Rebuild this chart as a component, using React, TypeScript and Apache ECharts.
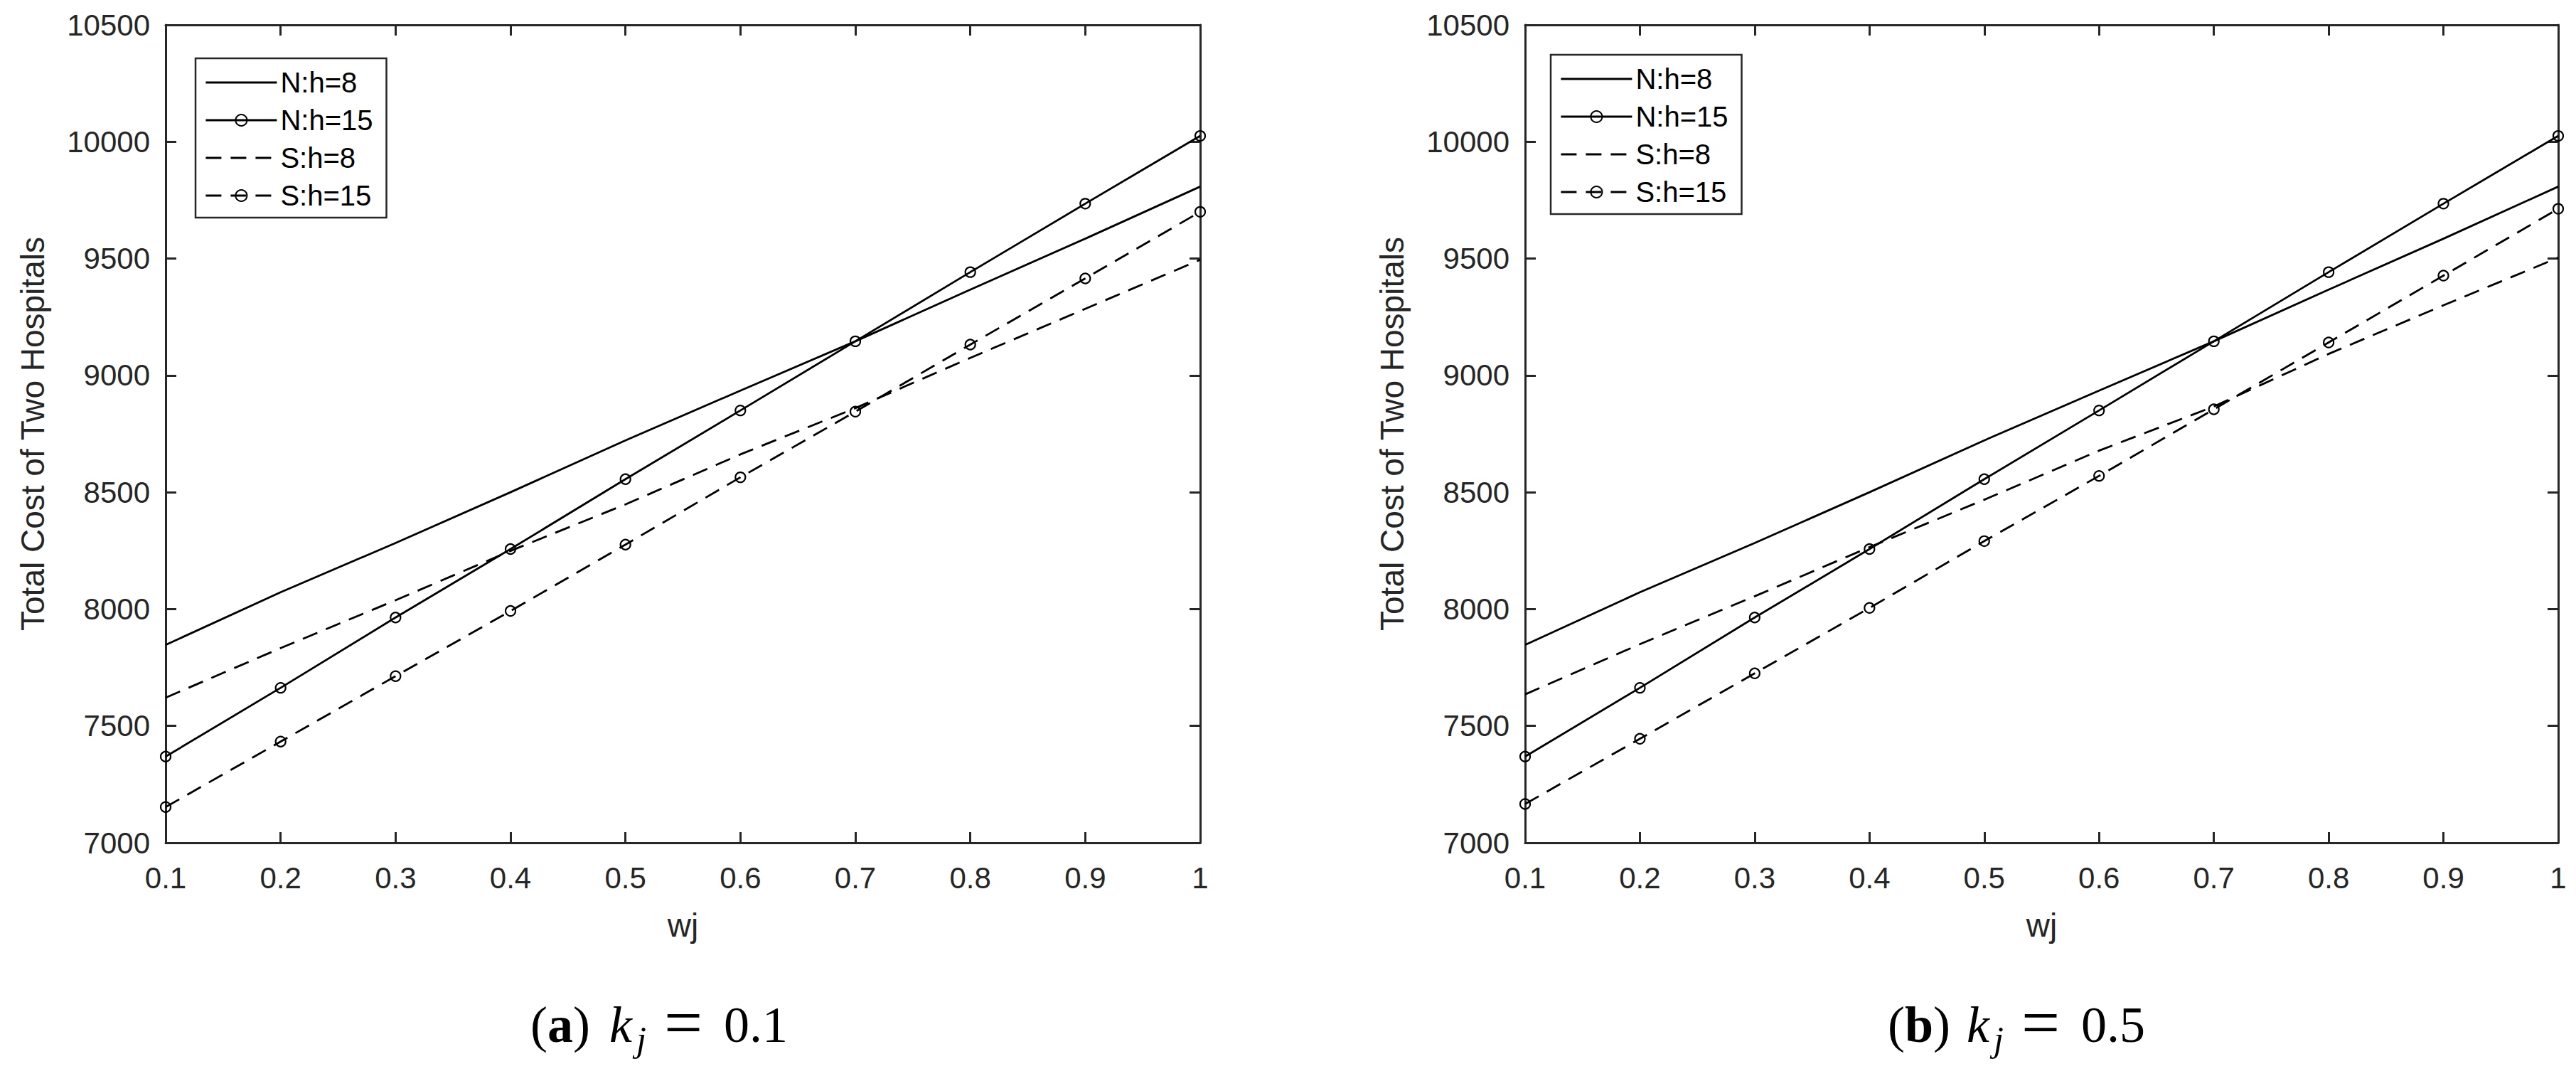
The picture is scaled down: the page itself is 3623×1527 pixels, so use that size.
import React, { useEffect, useRef } from "react";
import * as echarts from "echarts";

// ---- data ----
const wj = [0.1, 0.2, 0.3, 0.4, 0.5, 0.6, 0.7, 0.8, 0.9, 1.0];
const seriesNames = ["N:h=8", "N:h=15", "S:h=8", "S:h=15"];

// panel (a) k_j = 0.1
const aN8 = [7847, 8072, 8283, 8500, 8722, 8935, 9146, 9367, 9585, 9808];
const aN15 = [7369, 7663, 7964, 8257, 8556, 8850, 9146, 9442, 9735, 10025];
const aS8 = [7621, 7833, 8038, 8249, 8448, 8662, 8860, 9075, 9285, 9495];
const aS15 = [7153, 7433, 7713, 7992, 8276, 8564, 8845, 9132, 9415, 9700];

// panel (b) k_j = 0.5
const bN8 = [7847, 8072, 8283, 8500, 8722, 8935, 9146, 9367, 9585, 9808];
const bN15 = [7369, 7663, 7964, 8257, 8556, 8850, 9146, 9442, 9735, 10025];
const bS8 = [7635, 7850, 8055, 8265, 8468, 8678, 8867, 9092, 9300, 9504];
const bS15 = [7166, 7445, 7725, 8005, 8291, 8570, 8855, 9141, 9427, 9713];

const xMin = 0.1;
const xMax = 1;
const xStep = 0.1;
const yMin = 7000;
const yMax = 10500;
const yStep = 500;

const captionLetters = ["a", "b"];
const captionValues = ["0.1", "0.5"];
const xName = "wj";
const yName = "Total Cost of Two Hospitals";

const panels = [
  { N8: aN8, N15: aN15, S8: aS8, S15: aS15 },
  { N8: bN8, N15: bN15, S8: bS8, S15: bS15 },
];

// ---- style ----
const AX = "#262626";
const SANS = "Liberation Sans";
const SERIF = "Liberation Serif";
const DASH = [22, 13];
const grids = [
  { left: 233, top: 35, width: 1455, height: 1150 },
  { left: 2145, top: 35, width: 1453, height: 1150 },
];
const legendPos = [
  { left: 275, top: 82 },
  { left: 2181, top: 77 },
];
const capDx = [0, 1909];

function buildOption() {
  const xAxis: any[] = [];
  const yAxis: any[] = [];
  const series: any[] = [];
  const legend: any[] = [];
  const graphic: any[] = [];

  panels.forEach((p, gi) => {
    const lineAx = { show: true, onZero: false, lineStyle: { color: AX, width: 3 } };
    const tick = { show: true, inside: true, length: 15, lineStyle: { color: AX, width: 3 } };
    // bottom
    xAxis.push({
      type: "value",
      gridIndex: gi,
      position: "bottom",
      min: xMin,
      max: xMax,
      interval: xStep,
      axisLine: lineAx,
      axisTick: tick,
      splitLine: { show: false },
      axisLabel: {
        show: true,
        margin: 28,
        fontSize: 42,
        fontFamily: SANS,
        color: AX,
        formatter: (v: number) => String(Math.round(v * 10) / 10),
      },
      name: xName,
      nameLocation: "middle",
      nameGap: 93,
      nameTextStyle: { fontSize: 46, fontFamily: SANS, color: AX },
    });
    // top
    xAxis.push({
      type: "value",
      gridIndex: gi,
      position: "top",
      min: xMin,
      max: xMax,
      interval: xStep,
      axisLine: lineAx,
      axisTick: tick,
      splitLine: { show: false },
      axisLabel: { show: false },
    });
    // left
    yAxis.push({
      type: "value",
      gridIndex: gi,
      position: "left",
      min: yMin,
      max: yMax,
      interval: yStep,
      axisLine: lineAx,
      axisTick: tick,
      splitLine: { show: false },
      axisLabel: {
        show: true,
        margin: 22,
        fontSize: 42,
        fontFamily: SANS,
        color: AX,
        formatter: (v: number) => String(Math.round(v)),
      },
      name: yName,
      nameLocation: "middle",
      nameGap: 164,
      nameRotate: 90,
      nameTextStyle: { fontSize: 46, fontFamily: SANS, color: AX },
    });
    // right
    yAxis.push({
      type: "value",
      gridIndex: gi,
      position: "right",
      min: yMin,
      max: yMax,
      interval: yStep,
      axisLine: lineAx,
      axisTick: tick,
      splitLine: { show: false },
      axisLabel: { show: false },
    });

    const defs = [
      { name: seriesNames[0], vals: p.N8, dashed: false, marker: false },
      { name: seriesNames[1], vals: p.N15, dashed: false, marker: true },
      { name: seriesNames[2], vals: p.S8, dashed: true, marker: false },
      { name: seriesNames[3], vals: p.S15, dashed: true, marker: true },
    ];
    defs.forEach((d) => {
      series.push({
        type: "line",
        name: d.name,
        xAxisIndex: gi * 2,
        yAxisIndex: gi * 2,
        data: wj.map((x, i) => [x, d.vals[i]]),
        symbol: d.marker ? "circle" : "none",
        showSymbol: d.marker,
        symbolSize: 14,
        lineStyle: { color: "#000", width: 2.8, type: d.dashed ? DASH : "solid" },
        itemStyle: { color: "rgba(0,0,0,0)", borderColor: "#000", borderWidth: 2.2 },
        emphasis: { disabled: true },
      });
    });

    legend.push({
      left: legendPos[gi].left,
      top: legendPos[gi].top,
      orient: "vertical",
      itemWidth: 100,
      itemHeight: 20,
      itemGap: 13,
      padding: [14, 19, 11, 13],
      backgroundColor: "#fff",
      borderColor: AX,
      borderWidth: 2.5,
      selectedMode: false,
      textStyle: { fontSize: 40, fontFamily: SANS, color: "#000" },
      data: defs.map((d) => ({
        name: d.name,
        itemStyle: d.marker
          ? { color: "rgba(0,0,0,0)", borderColor: "#000", borderWidth: 2, opacity: 1 }
          : { opacity: 0 },
        lineStyle: { color: "#000", width: 2.8, type: d.dashed ? DASH : "solid", opacity: 1 },
      })),
    });

    const dx = capDx[gi];
    graphic.push(
      {
        type: "text",
        x: 746 + dx,
        y: 1441,
        style: {
          text: "{p|(}{b|" + captionLetters[gi] + "}{p|)}",
          fontSize: 72,
          fontFamily: SERIF,
          verticalAlign: "middle",
          fill: "#000",
          rich: {
            p: { fontSize: 72, fontFamily: SERIF, fill: "#000" },
            b: { fontSize: 72, fontFamily: SERIF, fontWeight: "bold", fill: "#000" },
          },
        },
      },
      {
        type: "text",
        x: 857 + dx,
        y: 1441,
        style: { text: "k", fontSize: 72, fontFamily: SERIF, fontStyle: "italic", verticalAlign: "middle", fill: "#000" },
      },
      {
        type: "text",
        x: 895 + dx,
        y: 1461,
        style: { text: "j", fontSize: 50, fontFamily: SERIF, fontStyle: "italic", verticalAlign: "middle", fill: "#000" },
      },
      {
        type: "text",
        x: 934 + dx,
        y: 1437,
        style: { text: "=", fontSize: 96, fontFamily: SERIF, verticalAlign: "middle", fill: "#000" },
      },
      {
        type: "text",
        x: 1018 + dx,
        y: 1441,
        style: { text: captionValues[gi], fontSize: 72, fontFamily: SERIF, verticalAlign: "middle", fill: "#000" },
      }
    );
  });

  return {
    animation: false,
    backgroundColor: "#fff",
    grid: grids.map((g) => ({ ...g, containLabel: false })),
    xAxis,
    yAxis,
    series,
    legend,
    graphic,
  };
}

export default function App() {
  const ref = useRef<HTMLDivElement>(null);
  useEffect(() => {
    if (!ref.current) return;
    const chart = echarts.init(ref.current, undefined, { renderer: "svg" });
    chart.setOption(buildOption() as any);
    return () => {
      chart.dispose();
    };
  }, []);
  return (
    <div
      ref={ref}
      style={{ position: "absolute", left: 0, top: 0, width: 3623, height: 1527, background: "#fff" }}
    />
  );
}
